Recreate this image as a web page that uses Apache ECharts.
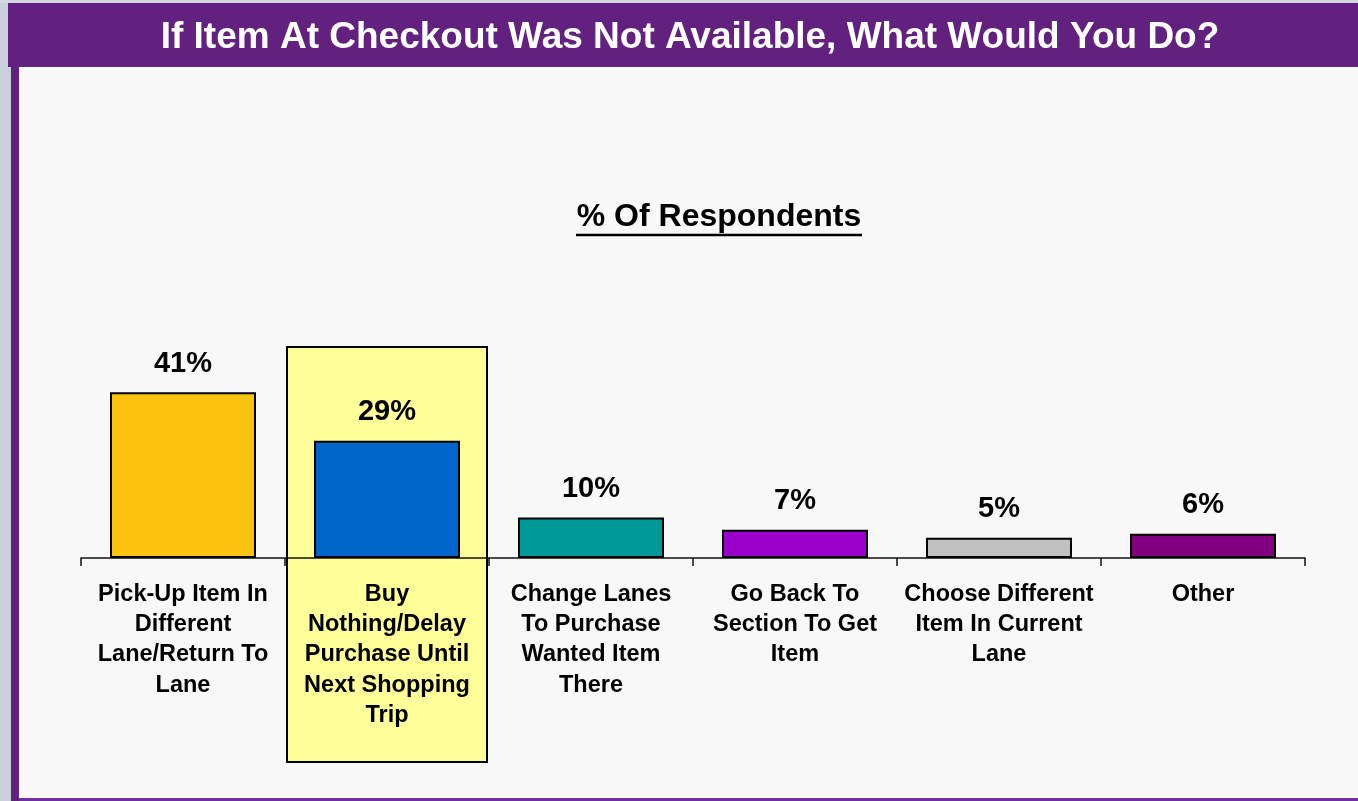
<!DOCTYPE html>
<html>
<head>
<meta charset="utf-8">
<title>If Item At Checkout Was Not Available, What Would You Do?</title>
<script src="https://cdn.jsdelivr.net/npm/echarts@6/dist/echarts.min.js"></script>
<style>
  html, body { margin: 0; padding: 0; background: #cbd1dc; }
  #chart { width: 1358px; height: 801px; }
</style>
</head>
<body>
<div id="chart"></div>
<script>
// Survey answers: what shoppers do when the checkout item is missing
const categories = [
  'Pick-Up Item In Different Lane/Return To Lane',
  'Buy Nothing/Delay Purchase Until Next Shopping Trip',
  'Change Lanes To Purchase Wanted Item There',
  'Go Back To Section To Get Item',
  'Choose Different Item In Current Lane',
  'Other'
];
const tickLabels = [
  'Pick-Up Item In\nDifferent\nLane/Return To\nLane',
  'Buy\nNothing/Delay\nPurchase Until\nNext Shopping\nTrip',
  'Change Lanes\nTo Purchase\nWanted Item\nThere',
  'Go Back To\nSection To Get\nItem',
  'Choose Different\nItem In Current\nLane',
  'Other'
];
const values = [41, 29, 10, 7, 5, 6];
const barColors = ['#F9C30F', '#0066CC', '#009999', '#9900CC', '#C0C0C0', '#800080'];
const highlightIndex = 1;

const titleText = 'If Item At Checkout Was Not Available, What Would You Do?';
const subtitleText = '% Of Respondents';

const FONT = "'Liberation Sans', Arial, Helvetica, sans-serif";
const PURPLE = '#62217F';

const chart = echarts.init(document.getElementById('chart'), null, { renderer: 'canvas' });

const option = {
  backgroundColor: '#cbd1dc',
  animation: false,
  title: [
    {
      text: titleText,
      left: 690, top: 19, textAlign: 'center', padding: 0,
      textStyle: { color: '#ffffff', fontSize: 37, fontWeight: 'bold', fontFamily: FONT, lineHeight: 37 },
      z: 20
    },
    {
      text: subtitleText,
      left: 719, top: 201, textAlign: 'center', padding: 0,
      textStyle: { color: '#000000', fontSize: 32, fontWeight: 'bold', fontFamily: FONT, lineHeight: 32 },
      z: 20
    }
  ],
  grid: { left: 81, right: 53, top: 356, bottom: 243, containLabel: false },
  xAxis: {
    type: 'category',
    data: categories,
    boundaryGap: true,
    z: 10,
    axisLine: { show: true, lineStyle: { color: '#111', width: 1.5 } },
    axisTick: { show: true, length: 8, alignWithLabel: false, lineStyle: { color: '#111', width: 1.5 } },
    axisLabel: {
      interval: 0,
      margin: 21,
      color: '#000',
      fontSize: 23.5,
      fontWeight: 'bold',
      fontFamily: FONT,
      lineHeight: 30.3,
      align: 'center',
      formatter: (v, i) => tickLabels[i]
    },
    splitLine: { show: false }
  },
  yAxis: {
    type: 'value',
    min: 0,
    max: 50,
    show: false,
    splitLine: { show: false }
  },
  series: [{
    type: 'bar',
    z: 10,
    barWidth: 146,
    data: values.map((v, i) => ({ value: v, itemStyle: { color: barColors[i] } })),
    itemStyle: { borderColor: '#000', borderWidth: 2 },
    label: {
      show: true,
      position: 'top',
      distance: 14,
      formatter: '{c}%',
      color: '#000',
      fontSize: 29,
      fontWeight: 'bold',
      fontFamily: FONT
    }
  }]
};

chart.setOption(option);

// Slide frame, the highlighted answer's box and the subtitle underline
const center = chart.convertToPixel({ xAxisIndex: 0 }, categories[highlightIndex]);
const bandStart = chart.convertToPixel({ xAxisIndex: 0 }, categories[0]);
const bandEnd = chart.convertToPixel({ xAxisIndex: 0 }, categories[1]);
const band = bandEnd - bandStart;
const boxHalf = band / 2 - 2;

chart.setOption({
  graphic: [
    { type: 'rect', id: 'topStrip', z: 0, shape: { x: 0, y: 0, width: 1358, height: 3 }, style: { fill: '#d3d7df' } },
    { type: 'rect', id: 'header', z: 0, shape: { x: 8, y: 3, width: 1350, height: 64 }, style: { fill: PURPLE } },
    { type: 'rect', id: 'leftBorder', z: 0, shape: { x: 11, y: 67, width: 8, height: 734 }, style: { fill: PURPLE } },
    { type: 'rect', id: 'content', z: 0, shape: { x: 19, y: 67, width: 1339, height: 731 }, style: { fill: '#F8F8F8' } },
    { type: 'rect', id: 'bottomLine', z: 0, shape: { x: 19, y: 798, width: 1339, height: 3 }, style: { fill: '#7030A0' } },
    {
      type: 'rect', id: 'highlight', z: 1,
      shape: { x: center - boxHalf, y: 347, width: boxHalf * 2, height: 415 },
      style: { fill: '#FFFF99', stroke: '#000', lineWidth: 2 }
    },
    {
      type: 'line', id: 'underline', z: 20,
      shape: { x1: 576, y1: 235, x2: 862, y2: 235 },
      style: { stroke: '#000', lineWidth: 2.5 }
    }
  ]
});
</script>
</body>
</html>
